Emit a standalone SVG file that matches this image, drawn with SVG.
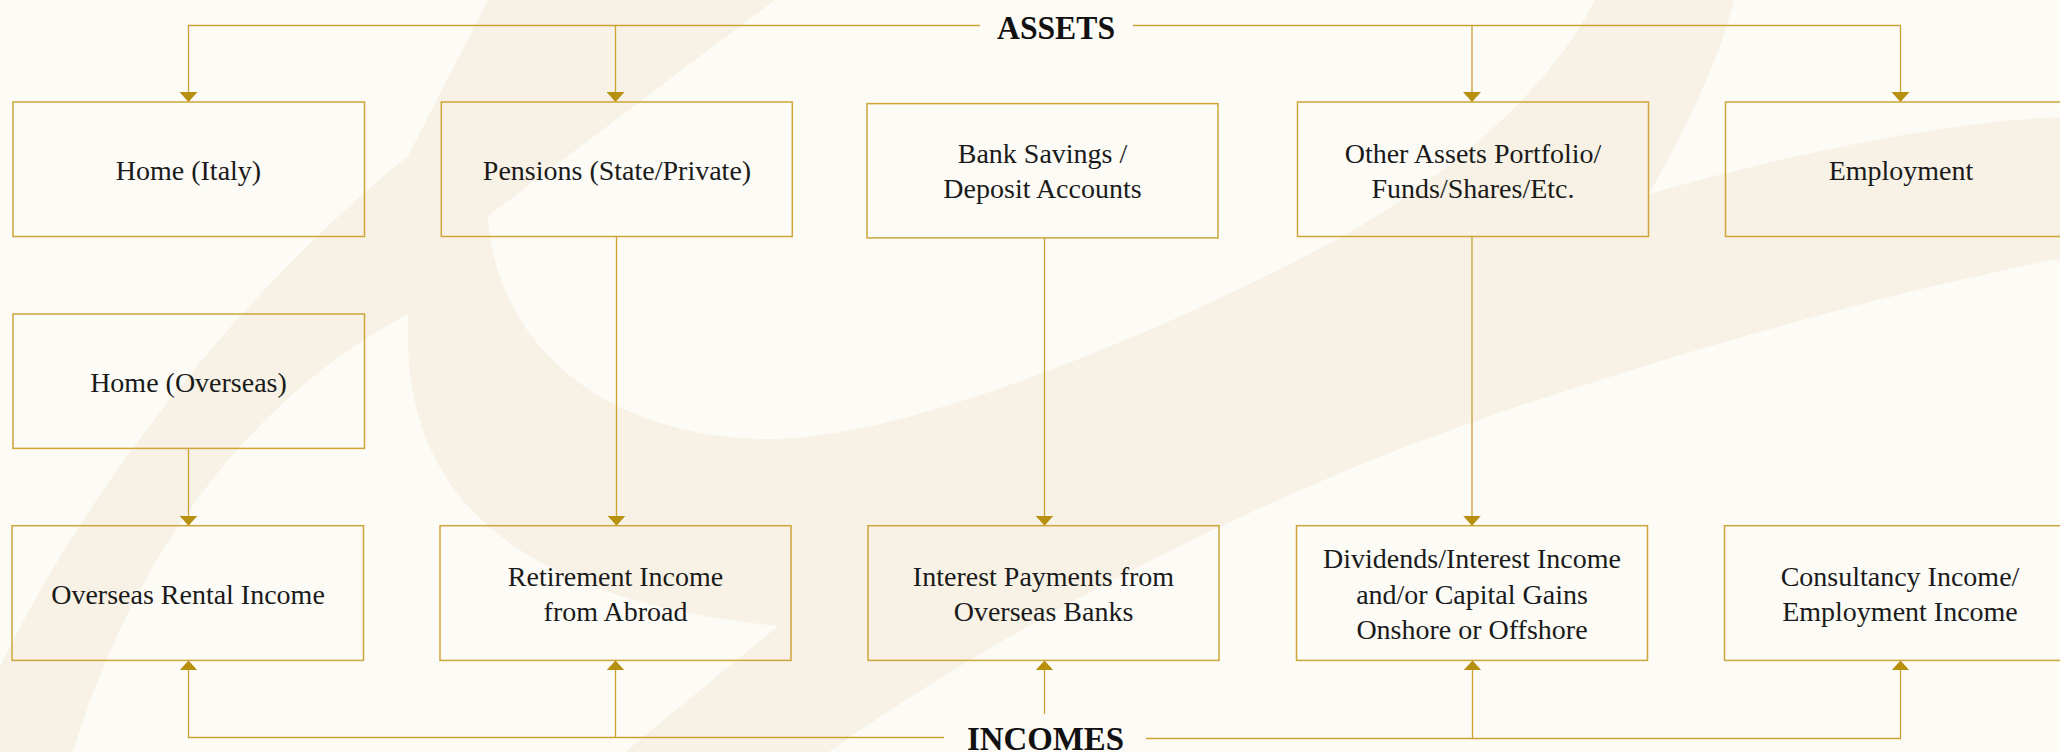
<svg xmlns="http://www.w3.org/2000/svg" width="2060" height="752" viewBox="0 0 2060 752">
  <style>
    .box { fill: none; stroke: #CDA53A; stroke-width: 1.5; }
    .lbl { font-family: "Liberation Serif", "Times New Roman", serif; font-size: 28px; fill: #1a1a1a; text-anchor: middle; }
    .hdr { font-family: "Liberation Serif", "Times New Roman", serif; font-weight: bold; font-size: 34px; fill: #111; text-anchor: middle; }
    .conn { fill: none; stroke: #C9A233; stroke-width: 1.3; }
    .arr { marker-end: url(#ah); }
  </style>
  <defs>
    <marker id="ah" markerUnits="userSpaceOnUse" viewBox="0 0 10 18" markerWidth="10" markerHeight="18" refX="10" refY="9" orient="auto">
      <path d="M0,0 L10,9 L0,18 Z" fill="#B8900F"/>
    </marker>
  </defs>

  <rect x="0" y="0" width="2060" height="752" fill="#FCFBF6"/>
  <path id="watermark" fill="#F7F2E5" d="M488,0 L775,0 L488,216 C495,340 600,439 772,439 C900,439 1150,340 1340,238 C1450,175 1550,90 1595,0 L1734,0 C1720,60 1680,140 1649,194 C1760,162 1930,122 2060,117 L2060,259 C1900,288 1650,360 1473,422 C1250,500 1000,630 829,752 L625,752 L778,626 C520,600 410,500 408,340 L408,314 C300,370 150,500 73,752 L0,752 L0,667 C80,500 230,300 408,156 Z"/>

  <g id="connectors">
    <path class="conn arr" d="M980,25.5 H188.5 V102"/>
    <path class="conn arr" d="M615.5,25.5 V102"/>
    <path class="conn arr" d="M1133,25.5 H1900.5 V102"/>
    <path class="conn arr" d="M1472,25.5 V102"/>
    <path class="conn arr" d="M188.5,448.4 V525.7"/>
    <path class="conn arr" d="M616.5,236.5 V525.7"/>
    <path class="conn arr" d="M1044.5,238 V525.7"/>
    <path class="conn arr" d="M1472,236.5 V525.7"/>
    <path class="conn arr" d="M944,737.5 H188.5 V660.4"/>
    <path class="conn arr" d="M615.5,737.5 V660.4"/>
    <path class="conn arr" d="M1044.5,714 V660.4"/>
    <path class="conn arr" d="M1146,738.5 H1900.5 V660.4"/>
    <path class="conn arr" d="M1472.5,738.5 V660.4"/>
  </g>

  <g id="assets">
    <text class="hdr" x="1056" y="39" textLength="118" lengthAdjust="spacingAndGlyphs">ASSETS</text>
  </g>
  <g id="incomes">
    <text class="hdr" x="1045.5" y="750" textLength="157" lengthAdjust="spacingAndGlyphs">INCOMES</text>
  </g>

  <g id="home-italy">
    <rect class="box" x="13" y="102" width="351.5" height="134.5"/>
    <text class="lbl" x="188.5" y="180">Home (Italy)</text>
  </g>
  <g id="pensions">
    <rect class="box" x="441.3" y="102" width="351" height="134.5"/>
    <text class="lbl" x="617" y="180">Pensions (State/Private)</text>
  </g>
  <g id="bank-savings">
    <rect class="box" x="867" y="103.6" width="351" height="134.3"/>
    <text class="lbl" x="1042.5" y="163.3">Bank Savings /</text>
    <text class="lbl" x="1042.5" y="198.3">Deposit Accounts</text>
  </g>
  <g id="other-assets">
    <rect class="box" x="1297.5" y="102" width="351" height="134.5"/>
    <text class="lbl" x="1473" y="163.3">Other Assets Portfolio/</text>
    <text class="lbl" x="1473" y="198">Funds/Shares/Etc.</text>
  </g>
  <g id="employment">
    <rect class="box" x="1725.5" y="102" width="351" height="134.5"/>
    <text class="lbl" x="1901" y="180">Employment</text>
  </g>
  <g id="home-overseas">
    <rect class="box" x="13" y="314" width="351.5" height="134.4"/>
    <text class="lbl" x="188.5" y="391.5">Home (Overseas)</text>
  </g>
  <g id="overseas-rental">
    <rect class="box" x="12" y="525.7" width="351.5" height="134.7"/>
    <text class="lbl" x="188" y="604.3">Overseas Rental Income</text>
  </g>
  <g id="retirement">
    <rect class="box" x="440" y="525.7" width="351" height="134.7"/>
    <text class="lbl" x="615.5" y="586">Retirement Income</text>
    <text class="lbl" x="615.5" y="621">from Abroad</text>
  </g>
  <g id="interest">
    <rect class="box" x="868" y="525.7" width="351" height="134.7"/>
    <text class="lbl" x="1043.5" y="586">Interest Payments from</text>
    <text class="lbl" x="1043.5" y="621">Overseas Banks</text>
  </g>
  <g id="dividends">
    <rect class="box" x="1296.5" y="525.7" width="351" height="134.7"/>
    <text class="lbl" x="1472" y="567.7">Dividends/Interest Income</text>
    <text class="lbl" x="1472" y="603.5">and/or Capital Gains</text>
    <text class="lbl" x="1472" y="639.3">Onshore or Offshore</text>
  </g>
  <g id="consultancy">
    <rect class="box" x="1724.5" y="525.7" width="351" height="134.7"/>
    <text class="lbl" x="1900" y="586">Consultancy Income/</text>
    <text class="lbl" x="1900" y="621">Employment Income</text>
  </g>
</svg>
